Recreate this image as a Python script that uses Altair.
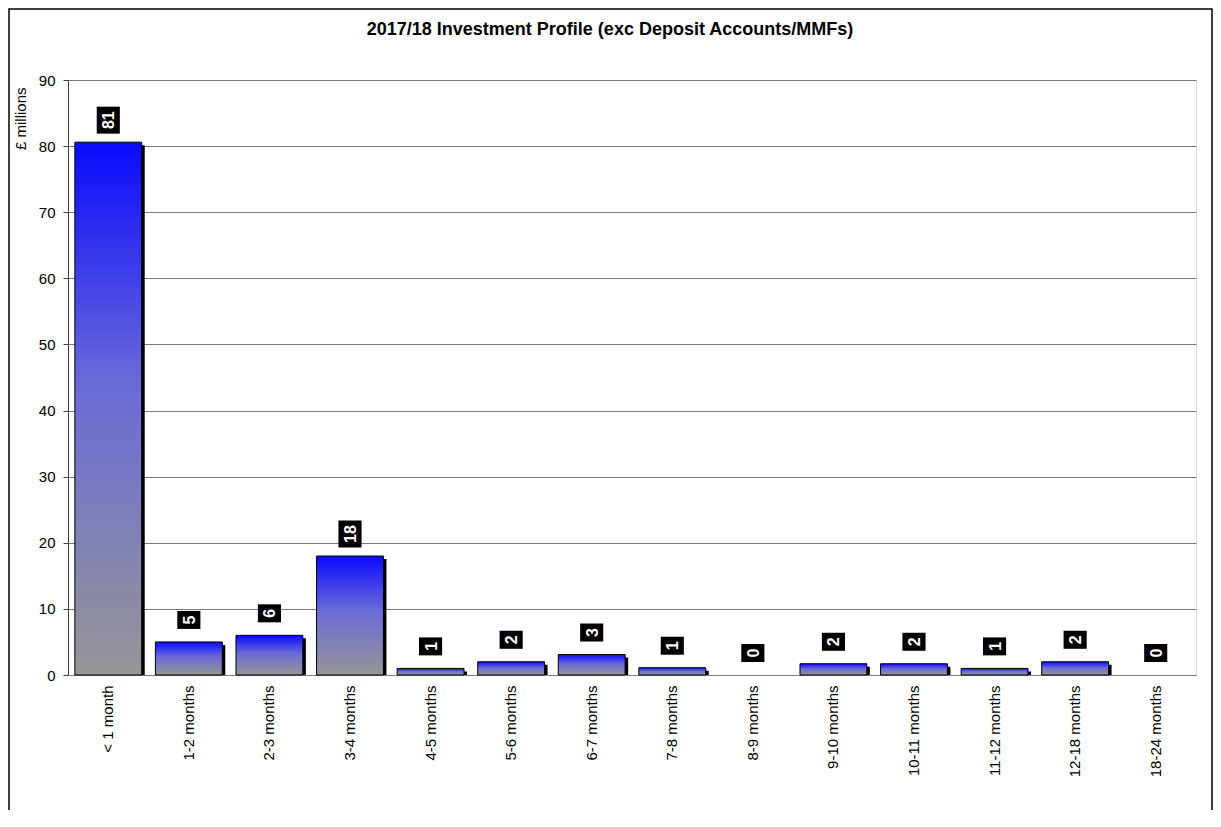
import altair as alt
import pandas as pd

categories = ["< 1 month", "1-2 months", "2-3 months", "3-4 months", "4-5 months",
              "5-6 months", "6-7 months", "7-8 months", "8-9 months", "9-10 months",
              "10-11 months", "11-12 months", "12-18 months", "18-24 months"]
values = [80.6, 5.0, 6.0, 18.0, 1.0, 2.0, 3.1, 1.1, 0.0, 1.7, 1.7, 1.0, 2.0, 0.0]
title_text = "2017/18 Investment Profile (exc Deposit Accounts/MMFs)"

df = pd.DataFrame({"cat": categories, "value": values})

FONT = "Liberation Sans"
W, H = 1128, 595

xenc = alt.X("cat:N", sort=categories, title=None,
             scale=alt.Scale(paddingInner=0.17, paddingOuter=0.085),
             axis=alt.Axis(labelAngle=270, labelAlign="right", labelBaseline="middle",
                           labelFontSize=15, labelFont=FONT, labelColor="#000000",
                           labelPadding=10, ticks=False, domainColor="#808080",
                           grid=False))
yenc = alt.Y("value:Q", scale=alt.Scale(domain=[0, 90], nice=False),
             axis=alt.Axis(values=list(range(0, 91, 10)), title="£ millions",
                           titleFontSize=15, titleFont=FONT, titleFontWeight="normal",
                           titleAngle=270, titleAlign="right", titleBaseline="middle",
                           titleX=-48, titleY=7, titleColor="#000000",
                           labelFontSize=15, labelFont=FONT, labelColor="#000000",
                           labelPadding=8, tickSize=5, tickColor="#404040",
                           domainColor="#404040", gridColor="#7a7a7a", gridWidth=1))

base = alt.Chart(df)

nonzero = base.transform_filter("datum.value > 0")

shadow = nonzero.mark_bar(color="#000000", xOffset=3, yOffset=3, y2Offset=0).encode(
    x=xenc, y=yenc, y2=alt.datum(0))

grad = alt.Gradient(gradient="linear",
                    stops=[alt.GradientStop(color="#0a0aff", offset=0),
                           alt.GradientStop(color="#6a6ad8", offset=0.45),
                           alt.GradientStop(color="#969696", offset=1)],
                    x1=0, x2=0, y1=0, y2=1)
bars = nonzero.mark_bar(color=grad, stroke="#000000", strokeWidth=1).encode(x=xenc, y=yenc)

box1 = base.transform_filter("round(datum.value) < 10").mark_point(
    shape="M-0.77,-0.6 L0.77,-0.6 L0.77,0.6 L-0.77,0.6 Z", size=900, filled=True,
    fill="#000000", stroke=None, opacity=1, yOffset=-22).encode(x=xenc, y=yenc)
box2 = base.transform_filter("round(datum.value) >= 10").mark_point(
    shape="M-0.77,-0.9 L0.77,-0.9 L0.77,0.9 L-0.77,0.9 Z", size=900, filled=True,
    fill="#000000", stroke=None, opacity=1, yOffset=-22).encode(x=xenc, y=yenc)

labels = base.transform_calculate(lab="format(round(datum.value), 'd')").mark_text(
    angle=270, align="center", baseline="middle", color="#ffffff", fontWeight="bold",
    fontSize=16, font=FONT, yOffset=-22, dy=1).encode(x=xenc, y=yenc, text="lab:N")

one = alt.Chart(pd.DataFrame({"k": [0]}))

border = one.mark_rect(fill=None, stroke="#000000", strokeWidth=1.5).encode(
    x=alt.value(-59), x2=alt.value(1144), y=alt.value(-71), y2=alt.value(900))

title = one.mark_text(fontSize=18, font=FONT, fontWeight="bold", color="#000000",
                      align="center", baseline="middle").encode(
    x=alt.value(542), y=alt.value(-50), text=alt.value(title_text))

chart = alt.layer(border, title, shadow, bars, box1, box2, labels).properties(
    width=W, height=H,
    autosize=alt.AutoSizeParams(type="none"),
    padding={"left": 60, "top": 72, "right": 17, "bottom": 135},
).configure_view(stroke=None).configure(background="#ffffff")

chart.save("out.html", embed_options={"renderer": "svg", "actions": False})
